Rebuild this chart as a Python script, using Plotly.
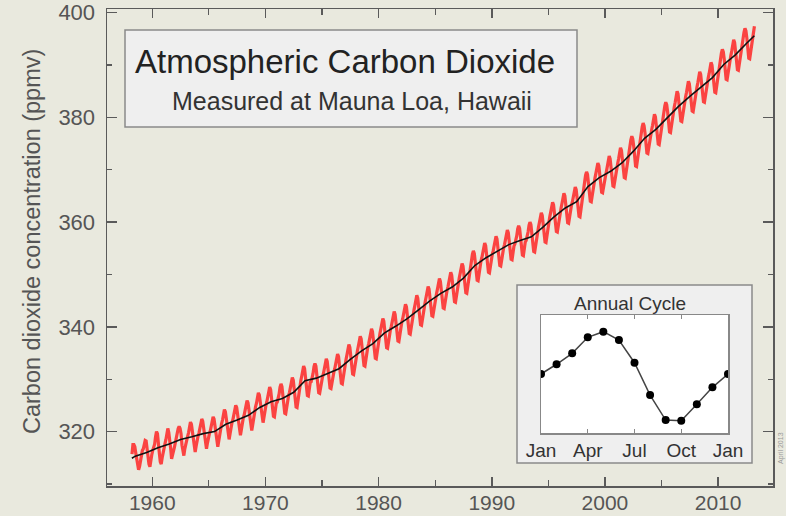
import plotly.graph_objects as go

# ---------------- data ----------------
# Monthly CO2 (ppmv), Mauna Loa, Mar 1958 .. Mar 2013 (read/estimated from the chart)
co2_1958_1959 = [315.7, 317.5, 317.5, 317.1, 315.9, 314.9, 313.2, 312.7, 313.3, 314.7,
                 315.6, 316.4, 316.7, 317.7, 318.3, 318.2, 316.5, 314.8, 313.8, 313.3, 314.8, 315.6]
co2_1960s = [
    316.4, 317.0, 317.6, 319.0, 320.0, 319.6, 318.2, 315.9, 314.2, 313.8, 315.0, 316.2,
    316.9, 317.7, 318.5, 319.5, 320.6, 319.8, 318.6, 316.8, 314.8, 315.4, 316.1, 317.0,
    317.9, 318.6, 319.7, 320.6, 321.0, 320.6, 319.6, 317.4, 316.3, 315.4, 316.7, 317.7,
    318.5, 319.1, 319.8, 321.1, 321.8, 321.4, 320.0, 317.9, 316.4, 316.1, 317.2, 318.6,
    319.1, 319.7, 320.4, 321.7, 322.4, 322.0, 320.6, 318.5, 317.0, 316.7, 317.8, 319.2,
    319.5, 320.1, 320.8, 322.1, 322.8, 322.4, 321.0, 318.9, 317.4, 317.1, 318.2, 319.6,
    320.9, 321.5, 322.2, 323.5, 324.2, 323.8, 322.4, 320.3, 318.8, 318.5, 319.6, 321.0,
    321.7, 322.3, 323.0, 324.3, 325.0, 324.6, 323.2, 321.1, 319.6, 319.3, 320.4, 321.8,
    322.6, 323.2, 323.9, 325.2, 325.9, 325.5, 324.1, 322.0, 320.5, 320.2, 321.3, 322.7,
    324.1, 324.7, 325.4, 326.7, 327.4, 327.0, 325.6, 323.5, 322.0, 321.7, 322.8, 324.2,
]
co2_1970s = [
    325.0, 325.7, 326.6, 327.9, 328.5, 328.0, 326.6, 324.6, 322.9, 322.8, 324.2, 325.4,
    325.6, 326.3, 327.2, 328.5, 329.1, 328.6, 327.2, 325.2, 323.5, 323.4, 324.8, 326.0,
    326.8, 327.5, 328.4, 329.7, 330.3, 329.8, 328.4, 326.4, 324.7, 324.6, 326.0, 327.2,
    329.0, 329.7, 330.6, 331.9, 332.5, 332.0, 330.6, 328.6, 326.9, 326.8, 328.2, 329.4,
    329.5, 330.2, 331.1, 332.4, 333.0, 332.5, 331.1, 329.1, 327.4, 327.3, 328.7, 329.9,
    330.4, 331.1, 332.0, 333.3, 333.9, 333.4, 332.0, 330.0, 328.3, 328.2, 329.6, 330.8,
    331.3, 332.0, 332.9, 334.2, 334.8, 334.3, 332.9, 330.9, 329.2, 329.1, 330.5, 331.7,
    333.1, 333.8, 334.7, 336.0, 336.6, 336.1, 334.7, 332.7, 331.0, 330.9, 332.3, 333.5,
    334.7, 335.4, 336.3, 337.6, 338.2, 337.7, 336.3, 334.3, 332.6, 332.5, 333.9, 335.1,
    336.1, 336.8, 337.7, 339.0, 339.6, 339.1, 337.7, 335.7, 334.0, 333.9, 335.3, 336.5,
]
co2_1980s = [
    338.1, 338.8, 339.7, 341.0, 341.6, 341.1, 339.7, 337.7, 336.0, 335.9, 337.3, 338.5,
    339.4, 340.1, 341.0, 342.3, 342.9, 342.4, 341.0, 339.0, 337.3, 337.2, 338.6, 339.8,
    340.8, 341.5, 342.4, 343.7, 344.3, 343.8, 342.4, 340.4, 338.7, 338.6, 340.0, 341.2,
    342.5, 343.2, 344.1, 345.4, 346.0, 345.5, 344.1, 342.1, 340.4, 340.3, 341.7, 342.9,
    344.2, 344.9, 345.8, 347.1, 347.7, 347.2, 345.8, 343.8, 342.1, 342.0, 343.4, 344.6,
    345.7, 346.4, 347.3, 348.6, 349.2, 348.7, 347.3, 345.3, 343.6, 343.5, 344.9, 346.1,
    346.9, 347.6, 348.5, 349.8, 350.4, 349.9, 348.5, 346.5, 344.8, 344.7, 346.1, 347.3,
    348.6, 349.3, 350.2, 351.5, 352.1, 351.6, 350.2, 348.2, 346.5, 346.4, 347.8, 349.0,
    351.0, 351.7, 352.6, 353.9, 354.5, 354.0, 352.6, 350.6, 348.9, 348.8, 350.2, 351.4,
    352.5, 353.2, 354.1, 355.4, 356.0, 355.5, 354.1, 352.1, 350.4, 350.3, 351.7, 352.9,
]
co2_1990s = [
    353.8, 354.5, 355.4, 356.7, 357.3, 356.8, 355.4, 353.4, 351.7, 351.6, 353.0, 354.2,
    355.0, 355.7, 356.6, 357.9, 358.5, 358.0, 356.6, 354.6, 352.9, 352.8, 354.2, 355.4,
    355.8, 356.5, 357.4, 358.7, 359.3, 358.8, 357.4, 355.4, 353.7, 353.6, 355.0, 356.2,
    356.5, 357.2, 358.1, 359.4, 360.0, 359.5, 358.1, 356.1, 354.4, 354.3, 355.7, 356.9,
    358.3, 359.0, 359.9, 361.2, 361.8, 361.3, 359.9, 357.9, 356.2, 356.1, 357.5, 358.7,
    360.3, 361.0, 361.9, 363.2, 363.8, 363.3, 361.9, 359.9, 358.2, 358.1, 359.5, 360.7,
    362.0, 362.7, 363.6, 364.9, 365.5, 365.0, 363.6, 361.6, 359.9, 359.8, 361.2, 362.4,
    363.2, 363.9, 364.8, 366.1, 366.7, 366.2, 364.8, 362.8, 361.1, 361.0, 362.4, 363.6,
    366.1, 366.8, 367.7, 369.0, 369.6, 369.1, 367.7, 365.7, 364.0, 363.9, 365.3, 366.5,
    367.8, 368.5, 369.4, 370.7, 371.3, 370.8, 369.4, 367.4, 365.7, 365.6, 367.0, 368.2,
]
co2_2000s = [
    368.7, 369.6, 370.5, 371.9, 372.6, 372.1, 370.7, 368.6, 366.9, 366.8, 368.2, 369.6,
    370.3, 371.2, 372.1, 373.5, 374.2, 373.7, 372.3, 370.2, 368.5, 368.4, 369.8, 371.2,
    372.5, 373.4, 374.3, 375.7, 376.4, 375.9, 374.5, 372.4, 370.7, 370.6, 372.0, 373.4,
    375.0, 375.9, 376.8, 378.2, 378.9, 378.4, 377.0, 374.9, 373.2, 373.1, 374.5, 375.9,
    376.7, 377.6, 378.5, 379.9, 380.6, 380.1, 378.7, 376.6, 374.9, 374.8, 376.2, 377.6,
    379.0, 379.9, 380.8, 382.2, 382.9, 382.4, 381.0, 378.9, 377.2, 377.1, 378.5, 379.9,
    381.1, 382.0, 382.9, 384.3, 385.0, 384.5, 383.1, 381.0, 379.3, 379.2, 380.6, 382.0,
    383.0, 383.9, 384.8, 386.2, 386.9, 386.4, 385.0, 382.9, 381.2, 381.1, 382.5, 383.9,
    384.8, 385.7, 386.6, 388.0, 388.7, 388.2, 386.8, 384.7, 383.0, 382.9, 384.3, 385.7,
    386.6, 387.5, 388.4, 389.8, 390.5, 390.0, 388.6, 386.5, 384.8, 384.7, 386.1, 387.5,
]
co2_2010s = [
    389.1, 390.0, 390.9, 392.3, 393.0, 392.5, 391.1, 389.0, 387.3, 387.2, 388.6, 390.0,
    390.9, 391.8, 392.7, 394.1, 394.8, 394.3, 392.9, 390.8, 389.1, 389.0, 390.4, 391.8,
    393.1, 394.0, 394.9, 396.3, 397.0, 396.5, 395.1, 393.0, 391.3, 391.2, 392.6, 394.0,
    395.6, 396.8, 397.4,
]

# Seasonally adjusted trend (black line), read at start, each mid-year, and end
trend_x = [1958.2] + [y + 0.5 for y in range(1958, 2013)] + [2013.2]
trend_vals = [314.9, 315.3,
              316.0, 316.9, 317.6, 318.5, 319.0, 319.6, 320.0, 321.4, 322.2, 323.1,
              324.6, 325.7, 326.3, 327.5, 329.7, 330.2, 331.1, 332.0, 333.8, 335.4,
              336.8, 338.8, 340.1, 341.5, 343.2, 344.9, 346.4, 347.6, 349.3, 351.7,
              353.2, 354.5, 355.7, 356.5, 357.2, 359.0, 361.0, 362.7, 363.9, 366.8,
              368.5, 369.7, 371.3, 373.5, 376.0, 377.7, 380.0, 382.1, 384.0, 385.8,
              387.6, 390.1, 391.9, 394.1,
              395.6]

# Annual cycle (inset), ppmv relative to the yearly mean
cycle_months = [0, 1, 2, 3, 4, 5, 6, 7, 8, 9, 10, 11, 12]
cycle_vals = [0.0, 0.76, 1.61, 2.86, 3.30, 2.65, 0.88, -1.64, -3.59, -3.64, -2.36, -1.04, 0.0]
cycle_tickvals = [0, 3, 6, 9, 12]
cycle_ticktext = ["Jan", "Apr", "Jul", "Oct", "Jan"]

x_tick0, x_dtick = 1960, 10
y_tick0, y_dtick = 320, 20

# ---------------- build ----------------
co2 = co2_1958_1959 + co2_1960s + co2_1970s + co2_1980s + co2_1990s + co2_2000s + co2_2010s
co2_x = [1958 + (2 + i + 0.5) / 12 for i in range(len(co2))]

W, H = 786, 516
L, R, T, B = 107, 773, 9, 486


def px(xp):
    return (xp - L) / (R - L)


def py(yp):
    return (B - yp) / (B - T)


FONT = "Liberation Sans, Arial, sans-serif"
AX = "#5a5a5a"

fig = go.Figure()
fig.add_trace(go.Scatter(x=co2_x, y=co2, mode="lines",
                         line=dict(color="rgba(255,30,30,0.82)", width=3.2),
                         xaxis="x", yaxis="y", hoverinfo="skip"))
fig.add_trace(go.Scatter(x=trend_x, y=trend_vals, mode="lines",
                         line=dict(color="#111111", width=1.6),
                         xaxis="x", yaxis="y", hoverinfo="skip"))
fig.add_trace(go.Scatter(x=cycle_months, y=cycle_vals, mode="lines+markers",
                         line=dict(color="#444444", width=1.5),
                         marker=dict(color="#000000", size=8),
                         xaxis="x2", yaxis="y2", hoverinfo="skip"))

shapes = [
    # title box
    dict(type="rect", xref="paper", yref="paper",
         x0=px(125), x1=px(577), y0=py(127), y1=py(30),
         fillcolor="#efefef", line=dict(color="#8a8a8a", width=1.5), layer="below"),
    # inset outer box
    dict(type="rect", xref="paper", yref="paper",
         x0=px(517), x1=px(752), y0=py(463), y1=py(285),
         fillcolor="#efefef", line=dict(color="#8a8a8a", width=1.5), layer="below"),
    # inset plot area
    dict(type="rect", xref="paper", yref="paper",
         x0=px(541), x1=px(728), y0=py(433), y1=py(315),
         fillcolor="#ffffff", line=dict(width=0), layer="below"),
]

annotations = [
    dict(text="Atmospheric Carbon Dioxide", x=px(345), y=py(61), xref="paper", yref="paper",
         showarrow=False, xanchor="center", yanchor="middle",
         font=dict(family=FONT, size=33, color="#222222")),
    dict(text="Measured at Mauna Loa, Hawaii", x=px(352), y=py(101), xref="paper", yref="paper",
         showarrow=False, xanchor="center", yanchor="middle",
         font=dict(family=FONT, size=25, color="#333333")),
    dict(text="Annual Cycle", x=px(630), y=py(303), xref="paper", yref="paper",
         showarrow=False, xanchor="center", yanchor="middle",
         font=dict(family=FONT, size=19, color="#333333")),
    dict(text="Carbon dioxide concentration (ppmv)", x=px(32), y=py(242), xref="paper", yref="paper",
         showarrow=False, xanchor="center", yanchor="middle", textangle=-90,
         font=dict(family=FONT, size=23.5, color="#555555")),
    dict(text="April 2013", x=px(781), y=py(448), xref="paper", yref="paper",
         showarrow=False, xanchor="center", yanchor="middle", textangle=-90,
         font=dict(family=FONT, size=7, color="#9a9a9a")),
]

fig.update_layout(
    width=W, height=H,
    margin=dict(l=L, r=W - R, t=T, b=H - B, autoexpand=False),
    paper_bgcolor="#e9e9de", plot_bgcolor="rgba(0,0,0,0)",
    showlegend=False,
    shapes=shapes, annotations=annotations,
    xaxis=dict(domain=[0, 1], anchor="y", range=[1956.0, 2014.85],
               tick0=x_tick0, dtick=x_dtick, ticks="inside", ticklen=9, tickwidth=1.5,
               tickcolor=AX, showline=True, linecolor=AX, linewidth=1.5, mirror="ticks",
               showgrid=False, zeroline=False, automargin=False, ticklabelstandoff=-3,
               tickfont=dict(family=FONT, size=21, color="#555555"),
               minor=dict(dtick=5, ticks="inside", ticklen=6, tickwidth=1.2,
                          tickcolor=AX, showgrid=False)),
    yaxis=dict(domain=[0, 1], anchor="x", range=[309.6, 400.7],
               tick0=y_tick0, dtick=y_dtick, ticks="inside", ticklen=10, tickwidth=1.5,
               tickcolor=AX, showline=True, linecolor=AX, linewidth=1.5, mirror="ticks",
               showgrid=False, zeroline=False, ticklabelstandoff=6, automargin=False,
               tickfont=dict(family=FONT, size=22, color="#555555"),
               minor=dict(dtick=10, ticks="inside", ticklen=5, tickwidth=1.2,
                          tickcolor=AX, showgrid=False)),
    xaxis2=dict(domain=[px(541), px(728)], anchor="y2", range=[0, 12],
                tickvals=cycle_tickvals, ticktext=cycle_ticktext,
                ticks="inside", ticklen=4, tickwidth=1.2, tickcolor="#888888",
                showline=True, linecolor="#888888", linewidth=1.5, mirror="ticks",
                showgrid=False, zeroline=False, automargin=False,
                tickfont=dict(family=FONT, size=19, color="#333333")),
    yaxis2=dict(domain=[py(433), py(315)], anchor="x2", range=[-4.6, 4.6],
                showticklabels=False, ticks="", automargin=False,
                showline=True, linecolor="#888888", linewidth=1.5, mirror=True,
                showgrid=False, zeroline=False),
)

fig.write_html("out.html", config={"displayModeBar": False, "staticPlot": True},
               post_script="document.body.style.margin='0';document.body.style.padding='0';"
                           "document.body.style.overflow='hidden';")
